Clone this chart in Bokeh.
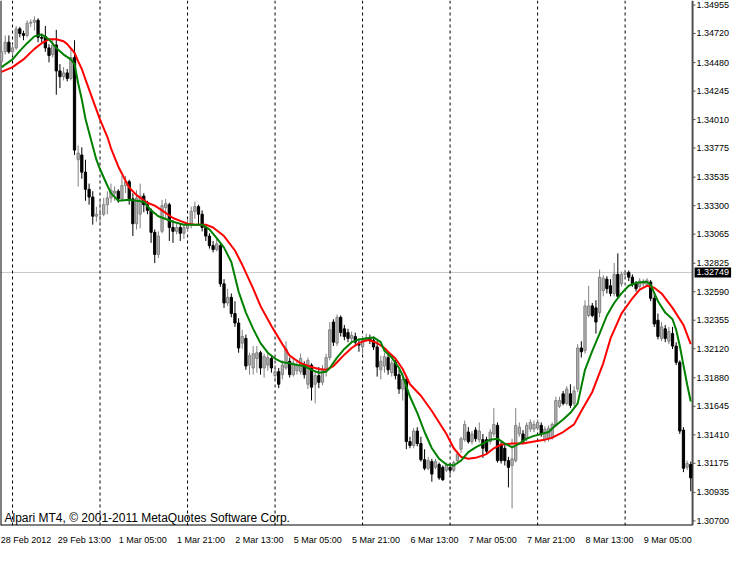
from bokeh.plotting import figure
from bokeh.models import (Range1d, LinearAxis, FixedTicker, Span, Label, ColumnDataSource)
from bokeh.core.properties import value
from bokeh.embed import file_html
from bokeh.resources import INLINE

# ---------------- data (EURUSD H1, 28 Feb 21:00 .. 9 Mar 2012) ----------------
open_ = [1.34490, 1.34569, 1.34648, 1.34569, 1.34601, 1.34758, 1.34719, 1.34704, 1.34805, 1.34813,
         1.34829, 1.34688, 1.34696, 1.34601, 1.34546, 1.34625, 1.34411, 1.34364, 1.34395, 1.34349,
         1.34522, 1.33679, 1.33718, 1.33576, 1.33435, 1.33371, 1.33213, 1.33229, 1.33229, 1.33308,
         1.33364, 1.33403, 1.33419, 1.33356, 1.33466, 1.33498, 1.33356, 1.33151, 1.33229, 1.33379,
         1.33308, 1.33261, 1.33080, 1.32898, 1.33088, 1.33285, 1.33308, 1.33120, 1.33088, 1.33120,
         1.33072, 1.33112, 1.33143, 1.33253, 1.33292, 1.33229, 1.33120, 1.33049, 1.32970, 1.32938,
         1.32970, 1.32655, 1.32497, 1.32544, 1.32410, 1.32332, 1.32166, 1.32205, 1.31985, 1.31961,
         1.32039, 1.32087, 1.31961, 1.31985, 1.32039, 1.31898, 1.31930, 1.31906, 1.31961, 1.32016,
         1.31906, 1.31938, 1.31930, 1.31985, 1.31827, 1.31985, 1.31827, 1.31898, 1.31843, 1.31938,
         1.32047, 1.32340, 1.32166, 1.32379, 1.32284, 1.32253, 1.32205, 1.32221, 1.32158, 1.32134,
         1.32190, 1.32213, 1.32190, 1.32134, 1.31946, 1.31977, 1.32047, 1.31922, 1.32008, 1.31906,
         1.31788, 1.31867, 1.31354, 1.31322, 1.31441, 1.31338, 1.31205, 1.31134, 1.31189, 1.31142,
         1.31165, 1.31142, 1.31118, 1.31142, 1.31118, 1.31197, 1.31291, 1.31370, 1.31433, 1.31354,
         1.31449, 1.31370, 1.31370, 1.31370, 1.31354, 1.31417, 1.31488, 1.31330, 1.31299, 1.31197,
         1.31157, 1.31197, 1.31417, 1.31417, 1.31378, 1.31457, 1.31457, 1.31465, 1.31488, 1.31370,
         1.31378, 1.31386, 1.31488, 1.31645, 1.31748, 1.31669, 1.31748, 1.31669, 1.31788, 1.32126,
         1.32103, 1.32394, 1.32473, 1.32457, 1.32418, 1.32599, 1.32694, 1.32639, 1.32576, 1.32733,
         1.32655, 1.32733, 1.32749, 1.32710, 1.32655, 1.32631, 1.32655, 1.32647, 1.32670, 1.32536,
         1.32355, 1.32205, 1.32284, 1.32182, 1.32245, 1.32142, 1.32008, 1.31449, 1.31142, 1.31165]

high = [1.34625, 1.34704, 1.34704, 1.34632, 1.34782, 1.34774, 1.34743, 1.34829, 1.34837, 1.34861,
        1.34845, 1.34719, 1.34782, 1.34632, 1.34680, 1.34750, 1.34467, 1.34443, 1.34427, 1.34585,
        1.34664, 1.33797, 1.33781, 1.33679, 1.33482, 1.33419, 1.33292, 1.33340, 1.33364, 1.33419,
        1.33482, 1.33458, 1.33435, 1.33545, 1.33545, 1.33514, 1.33403, 1.33427, 1.33482, 1.33403,
        1.33340, 1.33277, 1.33104, 1.33088, 1.33348, 1.33356, 1.33324, 1.33182, 1.33151, 1.33151,
        1.33151, 1.33182, 1.33292, 1.33332, 1.33308, 1.33261, 1.33135, 1.33072, 1.33009, 1.33025,
        1.32985, 1.32694, 1.32615, 1.32576, 1.32512, 1.32371, 1.32276, 1.32237, 1.32087, 1.32142,
        1.32142, 1.32103, 1.32079, 1.32095, 1.32063, 1.31985, 1.31961, 1.32024, 1.32182, 1.32047,
        1.32047, 1.32024, 1.32079, 1.32016, 1.32047, 1.32000, 1.31938, 1.31969, 1.31985, 1.32079,
        1.32340, 1.32363, 1.32402, 1.32394, 1.32316, 1.32284, 1.32261, 1.32253, 1.32205, 1.32221,
        1.32245, 1.32237, 1.32221, 1.32182, 1.32063, 1.32087, 1.32079, 1.32024, 1.32047, 1.31946,
        1.31922, 1.31890, 1.31394, 1.31465, 1.31473, 1.31394, 1.31291, 1.31228, 1.31212, 1.31212,
        1.31181, 1.31157, 1.31181, 1.31173, 1.31197, 1.31275, 1.31394, 1.31528, 1.31473, 1.31441,
        1.31473, 1.31512, 1.31417, 1.31394, 1.31457, 1.31630, 1.31512, 1.31354, 1.31338, 1.31228,
        1.31378, 1.31630, 1.31512, 1.31449, 1.31512, 1.31536, 1.31528, 1.31536, 1.31512, 1.31480,
        1.31488, 1.31512, 1.31724, 1.31724, 1.31772, 1.31811, 1.31827, 1.31811, 1.32158, 1.32182,
        1.32520, 1.32639, 1.32497, 1.32520, 1.32773, 1.32726, 1.32718, 1.32694, 1.32827, 1.32906,
        1.32757, 1.32773, 1.32765, 1.32733, 1.32678, 1.32702, 1.32694, 1.32702, 1.32686, 1.32576,
        1.32410, 1.32340, 1.32316, 1.32300, 1.32300, 1.32174, 1.32024, 1.31473, 1.31197, 1.31189]

low = [1.34459, 1.34546, 1.34553, 1.34538, 1.34585, 1.34688, 1.34664, 1.34688, 1.34774, 1.34743,
       1.34648, 1.34648, 1.34569, 1.34482, 1.34522, 1.34215, 1.34270, 1.34333, 1.34325, 1.34333,
       1.33718, 1.33458, 1.33522, 1.33340, 1.33308, 1.33143, 1.33167, 1.33151, 1.33213, 1.33229,
       1.33324, 1.33340, 1.33324, 1.33340, 1.33403, 1.33308, 1.33049, 1.33104, 1.33112, 1.33245,
       1.33229, 1.32993, 1.32827, 1.32867, 1.33072, 1.33182, 1.33009, 1.32993, 1.33064, 1.33009,
       1.33025, 1.33088, 1.33112, 1.33190, 1.33143, 1.33088, 1.33009, 1.32946, 1.32914, 1.32922,
       1.32631, 1.32457, 1.32473, 1.32379, 1.32300, 1.32087, 1.32118, 1.31946, 1.31906, 1.31906,
       1.31922, 1.31906, 1.31882, 1.31938, 1.31922, 1.31859, 1.31795, 1.31867, 1.31946, 1.31882,
       1.31890, 1.31906, 1.31906, 1.31874, 1.31788, 1.31693, 1.31669, 1.31795, 1.31819, 1.31890,
       1.32024, 1.32142, 1.32142, 1.32221, 1.32190, 1.32174, 1.32174, 1.32142, 1.32095, 1.32079,
       1.32174, 1.32158, 1.32110, 1.31890, 1.31867, 1.31922, 1.31906, 1.31890, 1.31867, 1.31748,
       1.31693, 1.31291, 1.31299, 1.31299, 1.31315, 1.31189, 1.31118, 1.31118, 1.31023, 1.31126,
       1.31039, 1.31031, 1.31102, 1.31086, 1.31102, 1.31173, 1.31259, 1.31354, 1.31338, 1.31330,
       1.31354, 1.31346, 1.31220, 1.31259, 1.31330, 1.31394, 1.31181, 1.31173, 1.31157, 1.30976,
       1.30803, 1.31181, 1.31394, 1.31338, 1.31354, 1.31433, 1.31433, 1.31449, 1.31394, 1.31346,
       1.31354, 1.31370, 1.31473, 1.31630, 1.31653, 1.31653, 1.31630, 1.31645, 1.31764, 1.32047,
       1.32079, 1.32379, 1.32379, 1.32245, 1.32379, 1.32552, 1.32576, 1.32552, 1.32552, 1.32536,
       1.32631, 1.32694, 1.32678, 1.32631, 1.32591, 1.32615, 1.32631, 1.32631, 1.32512, 1.32300,
       1.32197, 1.32182, 1.32174, 1.32158, 1.32118, 1.31985, 1.31417, 1.31102, 1.31118, 1.30944]

close = [1.34569, 1.34648, 1.34569, 1.34601, 1.34758, 1.34719, 1.34704, 1.34805, 1.34813, 1.34829,
         1.34688, 1.34680, 1.34601, 1.34538, 1.34625, 1.34411, 1.34364, 1.34395, 1.34349, 1.34522,
         1.33758, 1.33734, 1.33576, 1.33435, 1.33371, 1.33213, 1.33229, 1.33229, 1.33308, 1.33364,
         1.33427, 1.33419, 1.33356, 1.33466, 1.33498, 1.33356, 1.33151, 1.33364, 1.33379, 1.33308,
         1.33261, 1.33080, 1.32898, 1.33049, 1.33300, 1.33316, 1.33120, 1.33088, 1.33120, 1.33072,
         1.33120, 1.33143, 1.33253, 1.33292, 1.33229, 1.33120, 1.33049, 1.32970, 1.32938, 1.32985,
         1.32655, 1.32497, 1.32544, 1.32410, 1.32332, 1.32126, 1.32221, 1.31977, 1.32063, 1.32079,
         1.32087, 1.31961, 1.32055, 1.32047, 1.31961, 1.31930, 1.31827, 1.31985, 1.32118, 1.31906,
         1.32000, 1.31985, 1.32039, 1.31906, 1.32024, 1.31803, 1.31898, 1.31843, 1.31946, 1.32047,
         1.32276, 1.32174, 1.32379, 1.32253, 1.32221, 1.32205, 1.32229, 1.32174, 1.32150, 1.32190,
         1.32213, 1.32190, 1.32134, 1.31969, 1.32016, 1.32055, 1.31946, 1.32000, 1.31898, 1.31788,
         1.31867, 1.31354, 1.31322, 1.31441, 1.31338, 1.31205, 1.31134, 1.31197, 1.31086, 1.31189,
         1.31055, 1.31039, 1.31157, 1.31118, 1.31181, 1.31251, 1.31378, 1.31496, 1.31354, 1.31417,
         1.31378, 1.31441, 1.31299, 1.31275, 1.31433, 1.31496, 1.31197, 1.31197, 1.31197, 1.31142,
         1.31212, 1.31488, 1.31473, 1.31354, 1.31488, 1.31512, 1.31496, 1.31512, 1.31417, 1.31457,
         1.31465, 1.31496, 1.31693, 1.31693, 1.31669, 1.31788, 1.31653, 1.31772, 1.32126, 1.32095,
         1.32473, 1.32473, 1.32394, 1.32340, 1.32710, 1.32702, 1.32615, 1.32576, 1.32733, 1.32552,
         1.32733, 1.32749, 1.32710, 1.32655, 1.32615, 1.32678, 1.32678, 1.32686, 1.32536, 1.32324,
         1.32221, 1.32300, 1.32205, 1.32261, 1.32142, 1.32008, 1.31441, 1.31134, 1.31173, 1.31055]

# fast moving average (green), read at sampled bars
ma_fast_bar = [0, 3, 5, 7, 9, 11, 13, 15, 17, 19, 20, 21, 22, 23, 25, 26, 27, 29, 30, 32, 35, 37, 39,
               41, 43, 45, 47, 50, 52, 55, 57, 59, 61, 63, 65, 67, 69, 71, 73, 75, 77, 79, 81, 83, 85,
               87, 89, 90, 92, 94, 96, 98, 100, 102, 104, 105, 107, 109, 110, 112, 114, 116, 118, 120,
               122, 124, 126, 128, 130, 132, 134, 136, 138, 140, 142, 144, 146, 148, 150, 152, 154,
               156, 158, 160, 162, 164, 166, 168, 170, 172, 174, 176, 177, 178, 180, 182, 184, 185,
               186, 187, 188, 189]
ma_fast = [1.34443, 1.34506, 1.34577, 1.34640, 1.34696, 1.34711, 1.34672, 1.34601, 1.34546, 1.34506,
           1.34467, 1.34309, 1.34175, 1.34017, 1.33789, 1.33679, 1.33600, 1.33466, 1.33403, 1.33340,
           1.33348, 1.33340, 1.33332, 1.33261, 1.33213, 1.33190, 1.33167, 1.33143, 1.33143, 1.33143,
           1.33104, 1.33033, 1.32954, 1.32835, 1.32591, 1.32418, 1.32284, 1.32166, 1.32087, 1.32039,
           1.32008, 1.32000, 1.31985, 1.31977, 1.31946, 1.31922, 1.31930, 1.31961, 1.32047, 1.32118,
           1.32174, 1.32197, 1.32205, 1.32213, 1.32174, 1.32103, 1.32047, 1.31961, 1.31898, 1.31724,
           1.31591, 1.31433, 1.31299, 1.31212, 1.31165, 1.31157, 1.31197, 1.31267, 1.31307, 1.31338,
           1.31370, 1.31378, 1.31338, 1.31307, 1.31338, 1.31378, 1.31401, 1.31417, 1.31433, 1.31488,
           1.31536, 1.31591, 1.31669, 1.31946, 1.32103, 1.32245, 1.32394, 1.32497, 1.32576, 1.32639,
           1.32662, 1.32670, 1.32670, 1.32647, 1.32512, 1.32418, 1.32363, 1.32276, 1.32142, 1.31985,
           1.31827, 1.31685]

# slow moving average (red), read at sampled bars
ma_slow_bar = [0, 3, 6, 9, 11, 13, 15, 17, 18, 20, 21, 22, 23, 25, 27, 29, 30, 32, 34, 35, 37, 40,
               42, 44, 47, 49, 51, 53, 56, 58, 61, 64, 66, 69, 71, 74, 77, 79, 82, 85, 87, 89, 91, 92,
               94, 96, 98, 100, 101, 103, 105, 106, 108, 110, 112, 115, 118, 122, 124, 126, 128, 130,
               133, 135, 137, 140, 143, 146, 149, 151, 154, 157, 159, 162, 165, 167, 170, 173, 175,
               177, 179, 181, 184, 187, 189]
ma_slow = [1.34403, 1.34443, 1.34506, 1.34593, 1.34640, 1.34672, 1.34672, 1.34656, 1.34632, 1.34561,
           1.34490, 1.34427, 1.34341, 1.34175, 1.34010, 1.33868, 1.33773, 1.33623, 1.33506, 1.33450,
           1.33387, 1.33324, 1.33300, 1.33261, 1.33198, 1.33174, 1.33151, 1.33143, 1.33143, 1.33120,
           1.33049, 1.32930, 1.32812, 1.32615, 1.32473, 1.32308, 1.32158, 1.32063, 1.32000, 1.31969,
           1.31953, 1.31946, 1.31977, 1.32008, 1.32071, 1.32126, 1.32166, 1.32190, 1.32190, 1.32166,
           1.32126, 1.32095, 1.32039, 1.31953, 1.31827, 1.31732, 1.31606, 1.31417, 1.31299, 1.31228,
           1.31212, 1.31220, 1.31251, 1.31299, 1.31330, 1.31338, 1.31338, 1.31354, 1.31370, 1.31386,
           1.31433, 1.31496, 1.31606, 1.31764, 1.32000, 1.32205, 1.32410, 1.32536, 1.32607, 1.32639,
           1.32623, 1.32576, 1.32457, 1.32316, 1.32158]

price_ticks = [1.34955, 1.34720, 1.34480, 1.34245, 1.34010, 1.33775, 1.33535, 1.33300, 1.33065,
               1.32825, 1.32590, 1.32355, 1.32120, 1.31880, 1.31645, 1.31410, 1.31175, 1.30935, 1.30700]
price_tick_labels = ["1.34955", "1.34720", "1.34480", "1.34245", "1.34010", "1.33775", "1.33535",
                     "1.33300", "1.33065", "1.32825", "1.32590", "1.32355", "1.32120", "1.31880",
                     "1.31645", "1.31410", "1.31175", "1.30935", "1.30700"]
time_tick_bars = [0, 16, 32, 48, 64, 80, 96, 112, 128, 144, 160, 176]
time_tick_labels = ["28 Feb 2012", "29 Feb 13:00", "1 Mar 05:00", "1 Mar 21:00", "2 Mar 13:00",
                    "5 Mar 05:00", "5 Mar 21:00", "6 Mar 13:00", "7 Mar 05:00", "7 Mar 21:00",
                    "8 Mar 13:00", "9 Mar 05:00"]
day_start_bars = [3, 27, 51, 75, 99, 123, 147, 171]
current_price = 1.32749
current_price_label = "1.32749"
copyright_text = "Alpari MT4, \u00a9 2001-2011 MetaQuotes Software Corp."

# ---------------- layout constants ----------------
FONT = "Liberation Sans"
nbars = len(close)
bars = list(range(nbars))
X0 = -0.3                 # left edge of the price area (bar units)
AX = nbars - 0.5          # price-scale line just right of the last bar
X1 = AX + 11.5            # room for the price-scale labels
Y0, Y1 = 1.30662, 1.34992
LABEL_SHIFT = 6.7         # time labels start at their bar (terminal style)

p = figure(width=734, height=547, output_backend="svg", toolbar_location=None,
           x_range=Range1d(X0, X1), y_range=Range1d(Y0, Y1),
           x_axis_location=None, y_axis_location=None)
p.min_border_left = 0
p.min_border_top = 0
p.min_border_right = 0
p.min_border_bottom = 16
p.grid.visible = False
p.background_fill_color = "white"
p.border_fill_color = "white"
p.outline_line_color = None

# time scale (real axis)
label_pos = [b + LABEL_SHIFT for b in time_tick_bars]
xaxis = LinearAxis(ticker=FixedTicker(ticks=label_pos),
                   major_label_overrides={lp: s for lp, s in zip(label_pos, time_tick_labels)})
xaxis.axis_line_color = None
xaxis.major_tick_line_color = None
xaxis.minor_tick_line_color = None
xaxis.major_label_text_font = FONT
xaxis.major_label_text_font_size = "9px"
xaxis.major_label_text_color = "black"
xaxis.major_label_standoff = 3
p.add_layout(xaxis, "below")

# chart border (left, bottom) and price-scale line
p.segment(x0=[X0, X0, AX], y0=[Y0, Y0, Y0], x1=[X0, AX, AX], y1=[Y1, Y0, Y1],
          line_color=["black", "black", "#505050"], line_width=2)

# current price line and day separators
p.segment(x0=[X0], y0=[current_price], x1=[AX], y1=[current_price],
          line_color="#c8c8c8", line_width=1, level="underlay")
for b in day_start_bars:
    p.add_layout(Span(location=b, dimension="height", line_color="black",
                      line_width=1, line_dash="3 3", level="underlay"))

# candles
up = [c >= o for o, c in zip(open_, close)]
src = ColumnDataSource(dict(
    x=bars, o=open_, h=high, l=low, c=close,
    top=[max(o, c) for o, c in zip(open_, close)],
    bottom=[min(o, c) for o, c in zip(open_, close)],
    line=["#808080" if u else "black" for u in up],
    fill=["#b4b4b4" if u else "black" for u in up],
))
p.segment(x0="x", y0="l", x1="x", y1="h", line_color="line", line_width=1, source=src)
p.vbar(x="x", width=0.62, top="top", bottom="bottom", fill_color="fill",
       line_color="line", line_width=1, source=src)

# moving averages
p.line(ma_slow_bar, ma_slow, line_color="#ff0000", line_width=2)
p.line(ma_fast_bar, ma_fast, line_color="#008000", line_width=2)

# price scale ticks and labels
tick_src = ColumnDataSource(dict(y=price_ticks, t=price_tick_labels))
p.segment(x0=AX, y0="y", x1=AX + 0.8, y1="y", line_color="#505050", line_width=1, source=tick_src)
p.text(x=AX, y="y", text="t", source=tick_src, x_offset=4, text_baseline="middle",
       text_align="left", text_font=value(FONT), text_font_size="9px", text_color="black")

# current price marker on the price scale
p.add_layout(Label(x=AX, y=current_price, x_offset=2, text=current_price_label,
                   text_font=FONT, text_font_size="9px", text_color="white",
                   text_baseline="middle", background_fill_color="black",
                   padding=2))

# terminal copyright
p.add_layout(Label(x=X0, y=Y0, x_offset=4, y_offset=1, text=copyright_text,
                   text_font=FONT, text_font_size="12px", text_color="black",
                   text_baseline="bottom"))

open("out.html", "w").write(file_html(p, INLINE))
